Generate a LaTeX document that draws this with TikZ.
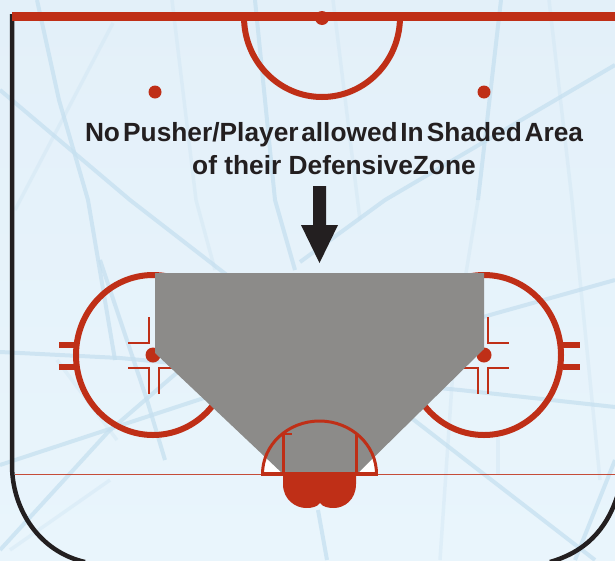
\documentclass[tikz,border=0pt]{standalone}
\usepackage{fontspec}
\setmainfont{Liberation Sans}
\definecolor{icetop}{HTML}{E3F0F9}
\definecolor{icebot}{HTML}{E9F5FC}
\definecolor{scratch}{HTML}{C6E0F0}
\definecolor{rinkred}{HTML}{BF2F17}
\definecolor{shadedarea}{HTML}{8C8B89}
\definecolor{ink}{HTML}{231F20}
\tikzset{
  scr/.style={scratch,line width=4pt,opacity=.75},
  scrthin/.style={scratch,line width=3.5pt,opacity=.3},
  redline/.style={rinkred,line width=6pt},
  tick/.style={rinkred,line width=2.6pt},
  hash/.style={rinkred,line width=5.5pt},
  msg/.style={font=\bfseries\fontsize{26.3}{30}\selectfont,text=ink,inner sep=0pt,anchor=base}
}
\begin{document}
\begin{tikzpicture}[x=1pt,y=-1pt]
\useasboundingbox (0,0) rectangle (615,560);
\shade[top color=icetop,bottom color=icebot] (0,0) rectangle (615,560);
% scratches
\begin{scope}
\clip (0,0) rectangle (615,560);
\draw[scr] (37,0) -- (59,100) -- (88,200) -- (115,360);
\draw[scr] (255,0) -- (275,200) -- (295,270);
\draw[scr] (0,90) -- (130,200) -- (485,475) -- (595,560);
\draw[scr] (615,65) -- (385,200) -- (300,262);
\draw[scr] (0,352) -- (120,358) -- (460,390) -- (615,407);
\draw[scr] (0,465) -- (210,396) -- (497,313) -- (615,280);
\draw[scr] (0,550) -- (108,432) -- (180,370);
\draw[scr] (100,260) -- (147,400) -- (165,460);
\draw[scr] (575,560) -- (615,460);
\draw[scr] (318,510) -- (327,560);
\draw[scr] (501,0) -- (478,200);
\draw[scrthin] (478,200) -- (455,340) -- (440,560);
\draw[scrthin] (15,210) -- (113,23);
\draw[scrthin] (172,0) -- (196,200) -- (215,270);
\draw[scrthin] (333,0) -- (360,220);
\draw[scrthin] (549,0) -- (572,200) -- (600,480);
\draw[scrthin] (57,360) -- (117,440);
\draw[scrthin] (498,430) -- (498,475);
\draw[scrthin] (10,550) -- (110,480);
\end{scope}
% crease fill
\fill[white] (262.5,474) arc[start angle=180,end angle=360,x radius=57,y radius=53] -- cycle;
% face-off circles
\draw[redline] (153,355) ellipse[x radius=77,y radius=80];
\draw[redline] (484,355) ellipse[x radius=77,y radius=80];
\draw[hash] (59,345) -- (76,345);
\draw[hash] (59,367) -- (76,367);
\draw[hash] (563,345) -- (580,345);
\draw[hash] (563,367) -- (580,367);
\foreach \c/\s in {153/1,484/-1}{
  \draw[tick] (\c-\s*4,317) -- (\c-\s*4,343) -- (\c-\s*25,343);
  \draw[tick] (\c-\s*4,394) -- (\c-\s*4,368) -- (\c-\s*25,368);
  \draw[tick] (\c+\s*6,394) -- (\c+\s*6,368) -- (\c+\s*25,368);
  \fill[rinkred] (\c,355) circle[radius=7.5];
}
% red goal line
\draw[rinkred,line width=.9pt,opacity=.85] (15,474) -- (615,474);
% shaded area
\fill[shadedarea] (155,273) -- (484,273) -- (484,349) -- (358,473) -- (282,473) -- (155,353) -- cycle;
% net
\fill[rinkred] (283,474) -- (283,484) .. controls (283,500) and (296,508) .. (306,508) .. controls (312,508) and (317,507) .. (320,503) .. controls (323,507) and (328,508) .. (334,508) .. controls (344,508) and (356,500) .. (356,484) -- (356,474) -- cycle;
% crease
\draw[rinkred,line width=3pt] (262.5,474) arc[start angle=180,end angle=360,x radius=57,y radius=53];
\draw[rinkred,line width=3.5pt] (261,474) -- (378,474);
\draw[rinkred,line width=3pt] (283,474) -- (283,434);
\draw[rinkred,line width=3pt] (356,474) -- (356,434);
\draw[rinkred,line width=2pt] (283,434) -- (292,434);
% centre zone arc and dots
\draw[redline] (244,17) arc[start angle=180,end angle=0,x radius=78,y radius=80];
\fill[rinkred] (155,92) circle[radius=6.5];
\fill[rinkred] (484,92) circle[radius=6.5];
% boards
\draw[ink,line width=4.5pt] (12,14) -- (12,465) .. controls (12,510) and (40,552) .. (85,562);
\draw[ink,line width=4.5pt] (617,497) .. controls (606,530) and (585,552) .. (550,562);
% blue line
\fill[rinkred] (12,12) rectangle (615,21);
\fill[rinkred] (322,18) circle[radius=7];
% message
\node[msg] (line1) at (334,141) {No\hspace{.12em}Pusher/Player\hspace{.1em}allowed\hspace{.1em}In\hspace{.12em}Shaded\hspace{.1em}Area};
\node[msg] (line2) at (334,174) {of their Defensive\hspace{0pt}Zone};
% arrow
\fill[ink] (313,186) -- (326,186) -- (326,225) -- (338,225) -- (319.5,263) -- (301,225) -- (313,225) -- cycle;
\end{tikzpicture}
\end{document}
